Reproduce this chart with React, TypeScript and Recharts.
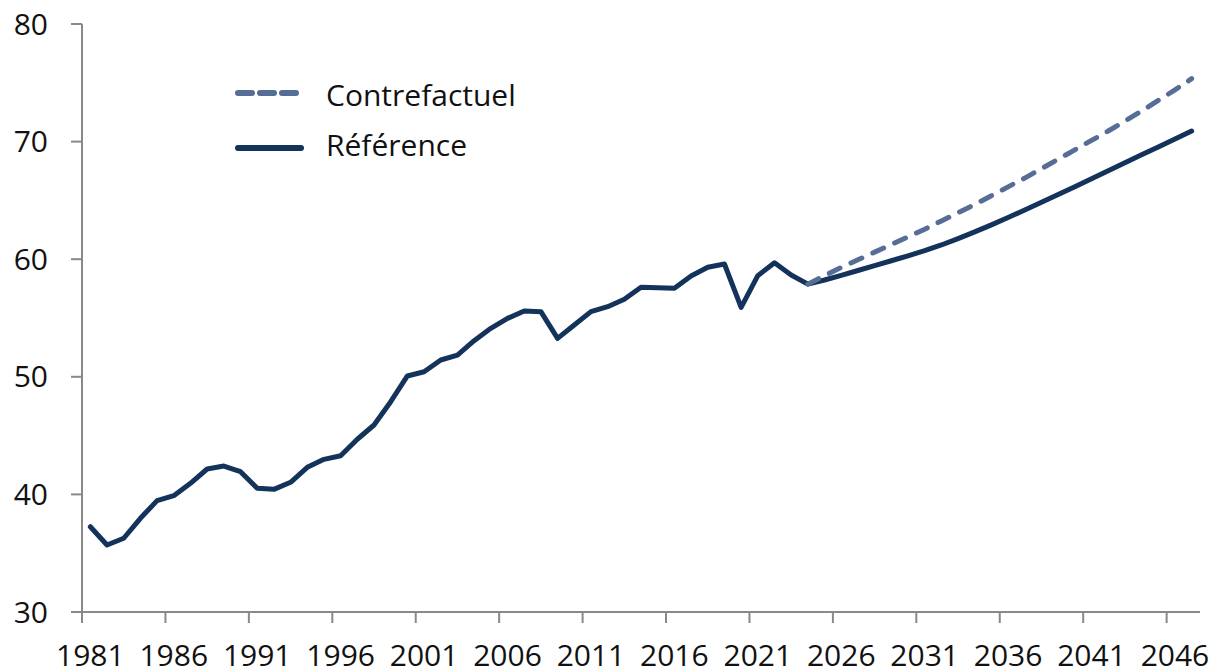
import { ComposedChart, Line, XAxis, YAxis, Legend } from "recharts";

const years = [
  1981, 1982, 1983, 1984, 1985, 1986, 1987, 1988, 1989, 1990, 1991, 1992, 1993, 1994,
  1995, 1996, 1997, 1998, 1999, 2000, 2001, 2002, 2003, 2004, 2005, 2006, 2007, 2008,
  2009, 2010, 2011, 2012, 2013, 2014, 2015, 2016, 2017, 2018, 2019, 2020, 2021, 2022,
  2023, 2024, 2025, 2026, 2027, 2028, 2029, 2030, 2031, 2032, 2033, 2034, 2035, 2036,
  2037, 2038, 2039, 2040, 2041, 2042, 2043, 2044, 2045, 2046, 2047,
];

// Référence: historique 1981-2024 puis projection
const reference = [
  37.25, 35.7, 36.27, 37.97, 39.47, 39.89, 40.94, 42.16, 42.41, 41.93, 40.52, 40.43, 41.03, 42.3,
  42.98, 43.29, 44.69, 45.9, 47.88, 50.07, 50.43, 51.43, 51.85, 53.07, 54.12, 54.97, 55.6, 55.54,
  53.27, 54.4, 55.54, 55.96, 56.59, 57.61, 57.58, 57.53, 58.57, 59.31, 59.59, 55.91, 58.6, 59.7,
  58.66, 57.88, 58.23, 58.63, 59.04, 59.45, 59.87, 60.29, 60.73, 61.21, 61.75, 62.32, 62.92, 63.54,
  64.18, 64.84, 65.5, 66.17, 66.85, 67.53, 68.2, 68.88, 69.55, 70.22, 70.9,
];

// Contrefactuel: à partir de 2024
const contrefactuel = [
  57.88, 58.6, 59.3, 59.95, 60.6, 61.25, 61.9, 62.55, 63.25, 63.95, 64.65, 65.4, 66.15,
  66.9, 67.7, 68.5, 69.3, 70.1, 70.9, 71.75, 72.6, 73.5, 74.4, 75.35,
];
const contrefactuelStart = 2024;

const xTicks = [1981, 1986, 1991, 1996, 2001, 2006, 2011, 2016, 2021, 2026, 2031, 2036, 2041, 2046];
const yTicks = [30, 40, 50, 60, 70, 80];

const data = years.map((year, i) => ({
  year,
  reference: reference[i],
  contrefactuel:
    year >= contrefactuelStart ? contrefactuel[year - contrefactuelStart] : null,
}));

const WIDTH = 1216;
const HEIGHT = 672;
const PLOT_LEFT = 82;
const PLOT_RIGHT = 1200;
const AXIS_COLOR = "#898989";
const DARK = "#14335a";
const LIGHT = "#566e96";
const FONT = "'Open Sans', sans-serif";
const FONT_SIZE = 30;
const halfStep = (PLOT_RIGHT - PLOT_LEFT) / years.length / 2;

// label au centre de l'année, trait de graduation entre deux années
function YearTick(props: any) {
  const { x, y, payload } = props;
  return (
    <g>
      <line x1={x - halfStep} x2={x - halfStep} y1={y - 11} y2={y} stroke={AXIS_COLOR} strokeWidth={2} />
      <text x={x} y={y + 43} textAnchor="middle" fill="#111" fontSize={FONT_SIZE} fontFamily={FONT}>
        {payload.value}
      </text>
    </g>
  );
}

function ChartLegend() {
  return (
    <svg width={320} height={110} style={{ display: "block" }}>
      <line x1={11} x2={71} y1={23} y2={23} stroke={LIGHT} strokeWidth={6} strokeDasharray="14 8" strokeLinecap="round" />
      <text x={99} y={36} fontSize={FONT_SIZE} fontFamily={FONT} fill="#111">
        Contrefactuel
      </text>
      <line x1={11} x2={74} y1={78} y2={78} stroke={DARK} strokeWidth={6} strokeLinecap="round" />
      <text x={99} y={86} fontSize={FONT_SIZE} fontFamily={FONT} fill="#111">
        Référence
      </text>
    </svg>
  );
}

export default function App() {
  return (
    <div style={{ position: "absolute", left: 0, top: 0, fontFamily: FONT }}>
      <ComposedChart
        width={WIDTH}
        height={HEIGHT}
        data={data}
        margin={{ top: 24, right: WIDTH - PLOT_RIGHT, bottom: 0, left: 0 }}
      >
        <XAxis
          dataKey="year"
          type="number"
          domain={[1980.5, 2047.5]}
          ticks={xTicks}
          interval={0}
          height={60}
          tickLine={false}
          tickSize={11}
          tickMargin={0}
          axisLine={{ stroke: AXIS_COLOR, strokeWidth: 2 }}
          tick={<YearTick />}
        />
        <YAxis
          domain={[30, 80]}
          ticks={yTicks}
          width={PLOT_LEFT}
          tickSize={11}
          tickMargin={23}
          axisLine={{ stroke: AXIS_COLOR, strokeWidth: 2 }}
          tickLine={{ stroke: AXIS_COLOR, strokeWidth: 2 }}
          tick={{ fill: "#111", fontSize: FONT_SIZE, fontFamily: FONT }}
        />
        <Legend
          layout="vertical"
          align="center"
          verticalAlign="middle"
          wrapperStyle={{ left: 227, top: 70, width: 320 }}
          content={() => <ChartLegend />}
        />
        <Line
          dataKey="reference"
          type="linear"
          stroke={DARK}
          strokeWidth={5}
          strokeLinejoin="round"
          strokeLinecap="round"
          dot={false}
          activeDot={false}
          isAnimationActive={false}
        />
        <Line
          dataKey="contrefactuel"
          type="linear"
          stroke={LIGHT}
          strokeWidth={5}
          strokeDasharray="12 12"
          strokeLinecap="round"
          dot={false}
          activeDot={false}
          connectNulls={false}
          isAnimationActive={false}
        />
      </ComposedChart>
    </div>
  );
}
